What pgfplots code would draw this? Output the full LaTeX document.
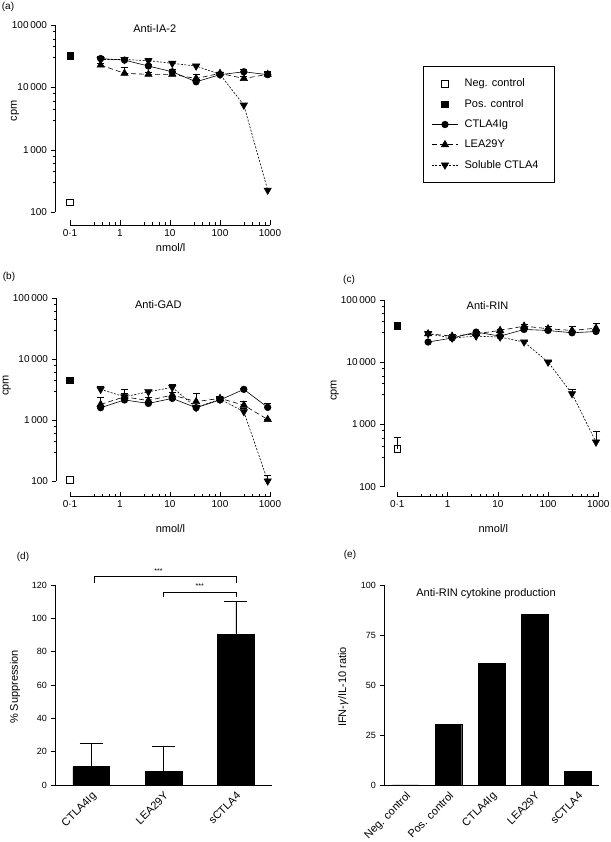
\documentclass[border=0pt]{standalone}
\usepackage{fontspec}
\setmainfont{Liberation Sans}
\usepackage{pgfplots}
\pgfplotsset{compat=1.18}
\newcommand\fa{\fontsize{10}{12}\selectfont}
\newcommand\fb{\fontsize{11}{13}\selectfont}
\newcommand\fc{\fontsize{9}{11}\selectfont}
\pgfplotsset{
  logpanel/.style={
    scale only axis, clip=false,
    axis x line*=bottom, axis y line*=left,
    axis line style={-, draw=none},
    tick align=outside, xtick pos=left, ytick pos=left,
    major tick length=4.5pt, minor tick length=2.5pt,
    every major x tick/.append style={yshift=4.5pt},
    every minor x tick/.append style={yshift=2.5pt},
    tick style={black, line width=0.5pt},
    xtick={0.1,1,10,100,1000},
    xticklabels={0·1,1,10,100,1000},
    minor xtick={0.3,0.45,0.6,0.8,3,4.5,6,8,30,45,60,80,300,450,600,800},
    ytick={100,1000,10000,100000},
    yticklabels={100,1\,000,10\,000,100\,000},
    minor ytick={300,450,600,800,3000,4500,6000,8000,30000,45000,60000,80000},
    ticklabel style={font=\fa},
    xticklabel style={yshift=3pt},
    label style={font=\fb},
    ylabel={cpm},
    xlabel={nmol/l},
    xmax=1000, ymax=100000,
  },
  eb/.style={
    /pgfplots/error bars/y dir=plus, /pgfplots/error bars/y explicit,
    /pgfplots/error bars/error bar style={solid, line width=0.5pt},
    /pgfplots/error bars/error mark options={rotate=90, mark size=3.5pt, solid, line width=0.5pt}},
  ctla/.style={black, solid, line width=0.6pt, mark=*, mark size=3.3pt, mark options={solid}, eb},
  lea/.style={black, line width=0.6pt, dash pattern=on 5pt off 3pt, mark=triangle*, mark size=4.2pt, mark options={solid}, eb},
  sol/.style={black, line width=0.6pt, dash pattern=on 2pt off 1.5pt, mark=triangle*, mark size=4.2pt, mark options={solid, rotate=180}, eb},
  negc/.style={black, only marks, mark=square, mark size=3.3pt, mark options={solid, fill=white, line width=0.6pt}, eb},
  posc/.style={black, only marks, mark=square*, mark size=3.3pt, mark options={solid}},
  limg/.style={legend image code/.code={\draw[mark repeat=2,mark phase=2,##1] plot coordinates {(0pt,0pt) (13.3pt,0pt) (26.6pt,0pt)};}},
  barpanel/.style={
    scale only axis, clip=false,
    axis x line*=bottom, axis y line*=left,
    axis line style={-, line width=0.6pt},
    tick align=outside, xtick pos=left, ytick pos=left,
    major tick length=4.5pt,
    every major x tick/.append style={draw=none},
    tick style={black, line width=0.5pt},
    /pgf/number format/assume math mode=true,
    yticklabel style={font=\fc},
    xticklabel style={font=\fb, rotate=45, anchor=north east, inner sep=1pt},
    label style={font=\fb},
  },
}
\begin{document}
\begin{tikzpicture}
\path[use as bounding box] (0pt,0pt) rectangle (610pt,842pt);
% panel labels
\node[font=\fa] at (8pt,835pt) {(a)};
\node[font=\fa] at (9pt,565pt) {(b)};
\node[font=\fa] at (349pt,562pt) {(c)};
\node[font=\fa] at (23pt,285pt) {(d)};
\node[font=\fa] at (350pt,287pt) {(e)};

% ---------------- (a)
\begin{axis}[xmode=log, ymode=log, logpanel, at={(55pt,617pt)}, anchor=south west, width=215pt, height=200pt,
  xmin=0.0501, ymin=62.6,
  ylabel style={at={(axis description cs:-0.186,0.57)}, anchor=center},
  xlabel style={at={(axis description cs:0.538,-0.115)}, anchor=center},
  legend cell align=left,
  legend style={at={(axis description cs:1.712,0.7965)}, anchor=north west, draw=black, line width=0.6pt,
    font=\fb, inner xsep=8pt, inner ysep=11pt, row sep=7pt, column sep=4pt},
]
\draw[line width=0.6pt] (axis cs:0.1,62.6) -- (axis cs:1000,62.6);
\draw[line width=0.6pt] (axis cs:0.0501,100) -- (axis cs:0.0501,100000);
\node[font=\fb] at (axis description cs:0.464,0.983) {Anti-IA-2};
\addplot[negc, limg] coordinates {(0.1,144)};
\addlegendentry{\makebox[80pt][l]{Neg. control}}
\addplot[posc, limg] coordinates {(0.1,32500)};
\addlegendentry{Pos. control}
\addplot[ctla, limg] coordinates {(0.41,29000) +- (0,2000) (1.23,27400) +- (0,2000) (3.7,22000) +- (0,1500) (11.1,17800) +- (0,1500) (33.3,12300) +- (0,1000) (100,16000) +- (0,1000) (300,17800) +- (0,1500) (900,16000) +- (0,2200)};
\addlegendentry{CTLA4Ig}
\addplot[lea, limg] coordinates {(0.41,22800) +- (0,1500) (1.23,16800) +- (0,4500) (3.7,16200) +- (0,1000) (11.1,16200) +- (0,1500) (33.3,13900) +- (0,2500) (100,16800) +- (0,1000) (300,13900) +- (0,1000) (900,16200) +- (0,1500)};
\addlegendentry{LEA29Y}
\addplot[sol, limg] coordinates {(0.41,28000) +- (0,2500) (1.23,28000) +- (0,2500) (3.7,26800) +- (0,2000) (11.1,24300) +- (0,1500) (33.3,22000) +- (0,1500) (100,16200) +- (0,1000) (300,5200) +- (0,400) (900,226) +- (0,20)};
\addlegendentry{Soluble CTLA4}
\end{axis}

% ---------------- (b)
\begin{axis}[xmode=log, ymode=log, logpanel, at={(56pt,345.3pt)}, anchor=south west, width=214pt, height=198.7pt,
  xmin=0.0525, ymin=55.3,
  ylabel style={at={(axis description cs:-0.23,0.56)}, anchor=center},
  xlabel style={at={(axis description cs:0.535,-0.159)}, anchor=center},
  xticklabel style={yshift=1pt},
]
\draw[line width=0.6pt] (axis cs:0.1,55.3) -- (axis cs:1000,55.3);
\draw[line width=0.6pt] (axis cs:0.0525,100) -- (axis cs:0.0525,100000);
\node[font=\fb] at (axis description cs:0.478,0.965) {Anti-GAD};
\addplot[negc] coordinates {(0.1,104)};
\addplot[posc] coordinates {(0.1,4500)};
\addplot[ctla] coordinates {(0.41,1590) +- (0,100) (1.23,2130) +- (0,150) (3.7,1870) +- (0,100) (11.1,2260) +- (0,150) (33.3,1590) +- (0,100) (100,2130) +- (0,100) (300,3180) +- (0,100) (900,1610) +- (0,300)};
\addplot[lea] coordinates {(0.41,1800) +- (0,550) (1.23,2400) +- (0,800) (3.7,2080) +- (0,300) (11.1,2570) +- (0,300) (33.3,2000) +- (0,700) (100,2260) +- (0,200) (300,1750) +- (0,300) (900,1020) +- (0,0)};
\addplot[sol] coordinates {(0.41,3180) +- (0,450) (1.23,2400) +- (0,300) (3.7,2900) +- (0,200) (11.1,3430) +- (0,400) (33.3,1600) +- (0,100) (100,2200) +- (0,200) (300,1370) +- (0,200) (900,100) +- (0,25)};
\end{axis}

% ---------------- (c)
\begin{axis}[xmode=log, ymode=log, logpanel, at={(384pt,345.3pt)}, anchor=south west, width=214.3pt, height=196.9pt,
  xmin=0.0543, ymin=69.1,
  ylabel style={at={(axis description cs:-0.23,0.54)}, anchor=center},
  xlabel style={at={(axis description cs:0.51,-0.16)}, anchor=center},
  xticklabel style={yshift=1pt},
]
\draw[line width=0.6pt] (axis cs:0.1,69.1) -- (axis cs:1000,69.1);
\draw[line width=0.6pt] (axis cs:0.0543,100) -- (axis cs:0.0543,100000);
\node[font=\fb] at (axis description cs:0.483,0.97) {Anti-RIN};
\addplot[negc] coordinates {(0.1,407) +- (0,218)};
\addplot[posc] coordinates {(0.1,38800)};
\addplot[ctla] coordinates {(0.41,21000) +- (0,1000) (1.23,24300) +- (0,1000) (3.7,30300) +- (0,1500) (11.1,26100) +- (0,1000) (33.3,33400) +- (0,1500) (100,32200) +- (0,2000) (300,29500) +- (0,1500) (900,31000) +- (0,2000)};
\addplot[lea] coordinates {(0.41,28500) +- (0,3000) (1.23,26100) +- (0,1500) (3.7,28500) +- (0,1500) (11.1,32200) +- (0,2000) (33.3,37800) +- (0,2000) (100,34300) +- (0,3500) (300,32200) +- (0,5000) (900,35000) +- (0,7000)};
\addplot[sol] coordinates {(0.41,28500) +- (0,3000) (1.23,24300) +- (0,1000) (3.7,26100) +- (0,1000) (11.1,25200) +- (0,1000) (33.3,21000) +- (0,500) (100,10000) +- (0,400) (300,3110) +- (0,600) (900,520) +- (0,260)};
\end{axis}

% ---------------- (d)
\begin{axis}[barpanel, at={(55pt,57pt)}, anchor=south west, width=217pt, height=200pt,
  xmin=-0.5, xmax=2.5, ymin=0, ymax=120,
  ytick={0,20,40,60,80,100,120},
  xtick={0,1,2}, xticklabels={CTLA4Ig,LEA29Y,sCTLA4},
  ylabel={\% Suppression},
  ylabel style={at={(axis description cs:-0.184,0.49)}, anchor=center},
]
\addplot[ybar, bar width=36.6pt, fill=black, draw=black,
  error bars/.cd, y dir=plus, y explicit, error bar style={line width=0.6pt},
  error mark options={rotate=90, mark size=11.5pt, line width=0.6pt}]
  coordinates {(0,11) +- (0,14) (1,8.2) +- (0,15.2) (2,90.4) +- (0,20)};
\draw[line width=0.6pt] (axis cs:0.05,121) -- (axis cs:0.05,125) -- (axis cs:2,125) -- (axis cs:2,121);
\draw[line width=0.6pt] (axis cs:1,113) -- (axis cs:1,115.4) -- (axis cs:2,115.4) -- (axis cs:2,113);
\node[font=\fontsize{7}{8}\selectfont] at (axis cs:0.93,128.5) {***};
\node[font=\fontsize{7}{8}\selectfont] at (axis cs:1.5,119.5) {***};
\end{axis}

% ---------------- (e)
\begin{axis}[barpanel, at={(384pt,57pt)}, anchor=south west, width=215.3pt, height=200pt,
  xmin=-0.5, xmax=4.5, ymin=0, ymax=100,
  ytick={0,25,50,75,100},
  xtick={0,1,2,3,4}, xticklabels={Neg. control,Pos. control,CTLA4Ig,LEA29Y,sCTLA4},
  ylabel={IFN-\textit{γ}/IL-10 ratio},
  ylabel style={at={(axis description cs:-0.189,0.49)}, anchor=center},
]
\addplot[ybar, bar width=26.3pt, fill=black, draw=black]
  coordinates {(0,0) (1,30.2) (2,60.8) (3,85.3) (4,6.7)};
\node[font=\fb] at (axis description cs:0.474,0.955) {Anti-RIN cytokine production};
\end{axis}
\end{tikzpicture}
\end{document}
